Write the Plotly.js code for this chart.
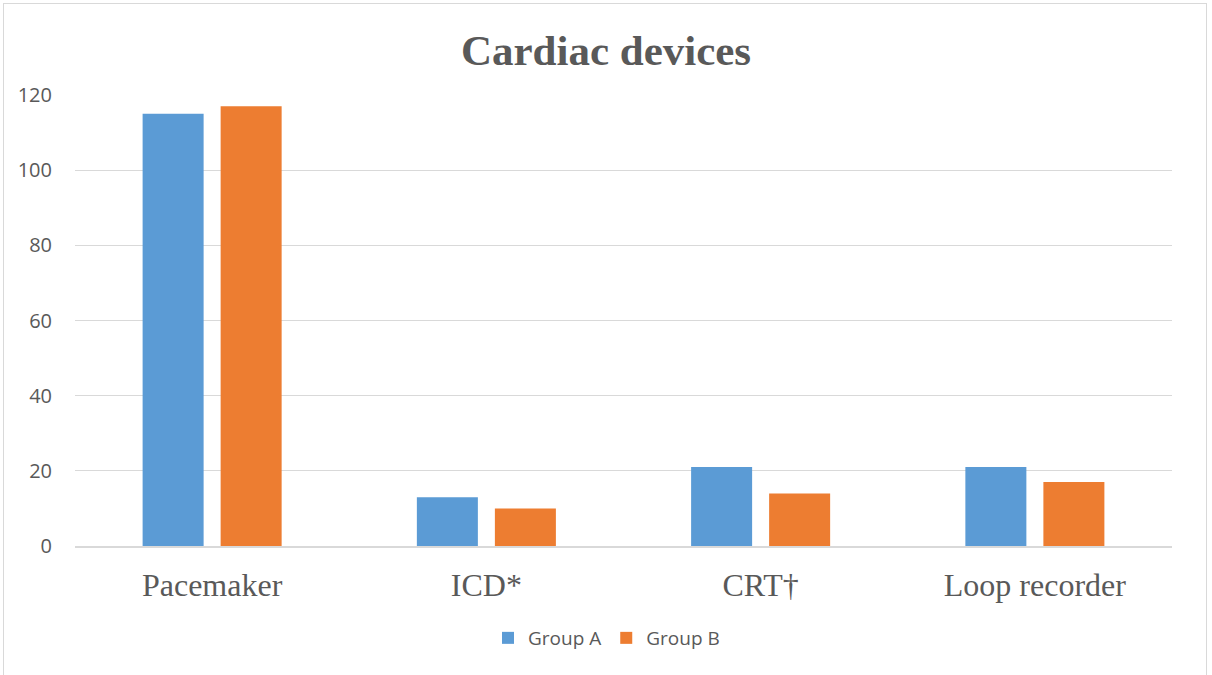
<!DOCTYPE html>
<html>
<head>
<meta charset="utf-8">
<script src="https://cdn.plot.ly/plotly-3.0.1.min.js"></script>
<style>
html,body{margin:0;padding:0;background:#fff;}
#wrap{position:relative;width:1212px;height:675px;}
#chart{width:1212px;height:675px;}
#frame{position:absolute;left:3px;top:3px;width:1204px;height:680px;border:1px solid #d9d9d9;pointer-events:none;box-sizing:border-box;}
</style>
</head>
<body>
<div id="wrap"><div id="chart"></div><div id="frame"></div></div>
<script>
const categories = ["Pacemaker", "ICD*", "CRT†", "Loop recorder"];
const groupA = [115, 13, 21, 21];
const groupB = [117, 10, 14, 17];
const yTicks = [0, 20, 40, 60, 80, 100, 120];

const traces = [
  {type:'bar', name:'Group A', x:categories, y:groupA, marker:{color:'#5b9bd5'}, hoverinfo:'y'},
  {type:'bar', name:'Group B', x:categories, y:groupB, marker:{color:'#ed7d31'}, hoverinfo:'y'}
];

const layout = {
  width:1212, height:675,
  margin:{l:75, r:40, t:95, b:129},
  paper_bgcolor:'#ffffff', plot_bgcolor:'#ffffff',
  title:{text:'<b>Cardiac devices</b>', x:0.5, xanchor:'center', y:0.926, yanchor:'middle',
         font:{family:'Liberation Serif, Times New Roman, serif', size:43, color:'#595959'}},
  barmode:'group', bargap:0.431, bargroupgap:0.218,
  xaxis:{tickfont:{family:'Liberation Serif, Times New Roman, serif', size:32, color:'#595959'},
         showline:true, linecolor:'#d9d9d9', linewidth:1.5, ticks:'', ticklabelstandoff:10, fixedrange:true},
  yaxis:{range:[0,120], tickvals:yTicks, showgrid:true, gridcolor:'#d9d9d9', gridwidth:1,
         zeroline:false, showline:false, ticks:'', ticklabelstandoff:22,
         tickfont:{family:'Open Sans, Liberation Sans, sans-serif', size:20, color:'#595959'}},
  showlegend:true,
  legend:{orientation:'h', x:0.4845, xanchor:'center', y:-0.204, yanchor:'middle',
          font:{family:'Open Sans, Liberation Sans, sans-serif', size:19, color:'#595959'}, itemwidth:30}
};

Plotly.newPlot('chart', traces, layout, {displayModeBar:false, staticPlot:true});
</script>
</body>
</html>
